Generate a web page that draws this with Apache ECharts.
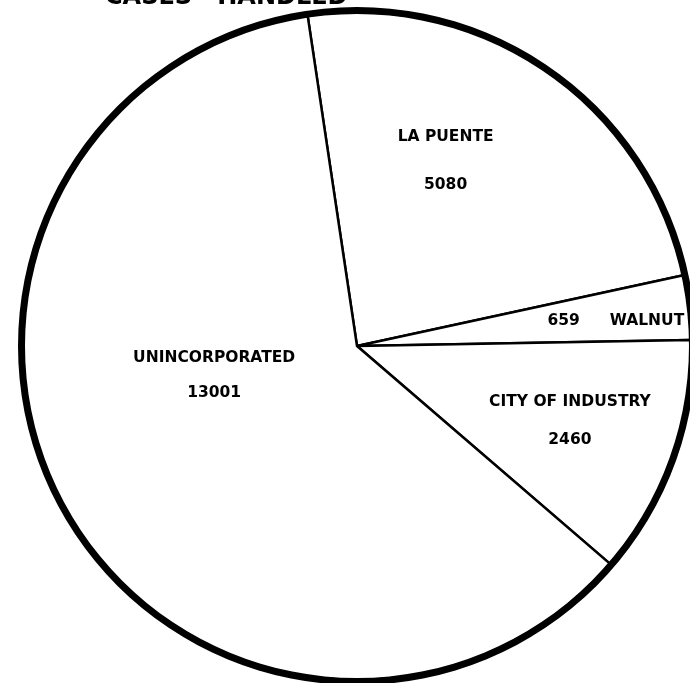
<!DOCTYPE html>
<html>
<head>
<meta charset="utf-8">
<script src="https://cdn.jsdelivr.net/npm/echarts@6/dist/echarts.min.js"></script>
<style>html,body{margin:0;padding:0;background:#fff;}#c{width:690px;height:683px;}</style>
</head>
<body>
<div id="c"></div>
<script>
var categories = ['LA PUENTE', 'WALNUT', 'CITY OF INDUSTRY', 'UNINCORPORATED'];
var values = [5080, 659, 2460, 13001];
var titleText = 'CASES   HANDLED';

var labelOffsets = [[-8, -45], [90, -5], [53, 17], [6, -53]];
var labelFormat = [
  '{n|{b}}\n{v|{c}}',
  '{g|{c}}{n|{b}}',
  '{n|{b}}\n{v|{c}}',
  '{n|{b}}\n{v|{c}}'
];
var lineH = [48, 20, 38, 35];

var chart = echarts.init(document.getElementById('c'), null, {renderer: 'canvas'});
var data = categories.map(function (name, i) {
  var base = {fontFamily: 'DejaVu Sans', fontWeight: 'bold', fontSize: 15.5, color: '#000', lineHeight: lineH[i]};
  return {
    name: name,
    value: values[i],
    label: {
      offset: labelOffsets[i],
      formatter: labelFormat[i],
      rich: {
        n: base,
        v: base,
        g: Object.assign({}, base, {padding: [0, 30, 0, 0]})
      }
    }
  };
});
var total = values.reduce(function (a, b) { return a + b; }, 0);

chart.setOption({
  backgroundColor: '#ffffff',
  animation: false,
  title: {
    text: titleText,
    left: 100,
    top: -19,
    textStyle: {fontFamily: 'DejaVu Sans', fontWeight: 'bold', fontSize: 24, color: '#000'}
  },
  series: [
    {
      type: 'pie',
      center: [357, 346],
      radius: [0, 334],
      startAngle: 98.5,
      clockwise: true,
      silent: true,
      itemStyle: {color: '#ffffff', borderColor: '#000000', borderWidth: 2.5},
      label: {show: true, position: 'inside', align: 'center'},
      labelLine: {show: false},
      data: data
    },
    {
      type: 'pie',
      center: [357, 346],
      radius: [332, 339],
      silent: true,
      itemStyle: {color: '#000000', borderWidth: 0},
      label: {show: false},
      labelLine: {show: false},
      data: [{name: 'TOTAL', value: total}]
    }
  ]
});
</script>
</body>
</html>
